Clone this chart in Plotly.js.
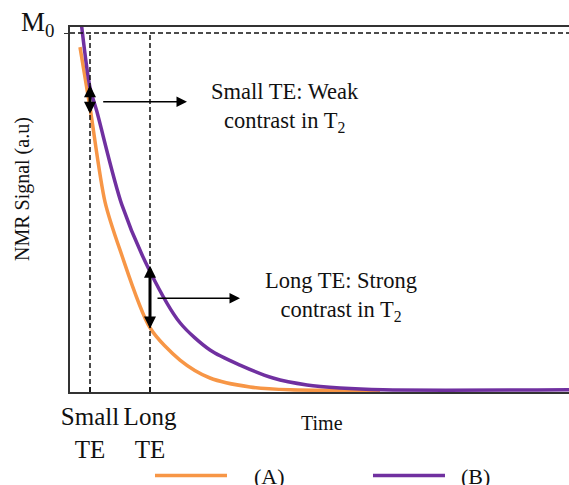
<!DOCTYPE html>
<html>
<head>
<meta charset="utf-8">
<script src="https://cdn.plot.ly/plotly-3.0.1.min.js"></script>
<style>html,body{margin:0;padding:0;background:#fff;}</style>
</head>
<body>
<div id="chart" style="width:569px;height:485px;"></div>
<script>
// Time (arbitrary units) and NMR signal (fraction of M0)
const timeA   = [0.5, 1.0, 1.75, 2.5, 4.0, 5.5, 7.0, 9.0, 11.0, 15.5];
const signalA = [0.961, 0.793, 0.530, 0.396, 0.179, 0.089, 0.039, 0.014, 0.006, 0.005];
const timeB   = [0.58, 1.0, 1.34, 2.59, 4.0, 5.5, 7.0, 8.5, 10.15, 11.85, 13.5, 15.65, 24.95];
const signalB = [1.02, 0.848, 0.782, 0.522, 0.336, 0.193, 0.117, 0.075, 0.039, 0.0195, 0.011, 0.006, 0.006];
const seriesNames = ["(A)", "(B)"];
const legendLabels = ["\u00a0\u00a0\u00a0\u00a0(A)", "\u00a0\u00a0(B)"];
const seriesColors = ["#F79646", "#7030A0"];
const teValues = [1, 4];
const teLabels = ["Small<br>TE", "Long<br>TE"];
const m0Value = 1;
const m0Label = "M<sub>0</sub>";
const xTitle = "Time";
const yTitle = "NMR Signal (a.u)";
// double arrows (contrast between curves) and pointer arrows
const smallArrow = {t: 1, low: 0.771, high: 0.855, from: 1.585, to: 5.85, level: 0.809};
const longArrow  = {t: 4, low: 0.173, high: 0.352, from: 4.3,  to: 8.5,  level: 0.2615};
const smallText = {t: 10.75, s: 0.794, text: "Small TE: Weak<br>contrast in T<sub>2</sub>"};
const longText  = {t: 13.55, s: 0.266, text: "Long TE: Strong<br>contrast in T<sub>2</sub>"};

const serif = "Liberation Serif, Times New Roman, serif";
const ink = "#111";

const traces = [
  {x: timeA, y: signalA, name: legendLabels[0], mode: "lines",
   line: {color: seriesColors[0], width: 3.5, shape: "spline", smoothing: 0.8}},
  {x: timeB, y: signalB, name: legendLabels[1], mode: "lines",
   line: {color: seriesColors[1], width: 3.5, shape: "spline", smoothing: 0.8}}
];

const dashStyle = {color: ink, width: 1.5, dash: "5px,3px"};
const shapes = [
  {type: "line", xref: "paper", x0: 0, x1: 1, yref: "y", y0: m0Value, y1: m0Value, line: dashStyle},
  ...teValues.map(v => ({type: "line", xref: "x", x0: v, x1: v, yref: "y", y0: 0, y1: m0Value, line: dashStyle}))
];

function dbl(a) {
  return {x: a.t, y: a.high, ax: a.t, ay: a.low, axref: "x", ayref: "y", xref: "x", yref: "y",
    text: "", showarrow: true, arrowhead: 2, arrowside: "end+start", arrowsize: 0.8, arrowwidth: 3, arrowcolor: "#000"};
}
function ptr(a) {
  return {x: a.to, y: a.level, ax: a.from, ay: a.level, axref: "x", ayref: "y", xref: "x", yref: "y",
    text: "", showarrow: true, arrowhead: 2, arrowsize: 1.4, arrowwidth: 1.5, arrowcolor: "#000"};
}
function lbl(a) {
  return {x: a.t, y: a.s, xref: "x", yref: "y", text: a.text, showarrow: false,
    font: {family: serif, size: 22.5, color: ink}, align: "center"};
}

const layout = {
  width: 569, height: 485,
  margin: {l: 70, r: 0, t: 27, b: 93, autoexpand: false},
  paper_bgcolor: "#fff", plot_bgcolor: "#fff",
  showlegend: true,
  legend: {orientation: "h", x: 0.1603, xanchor: "left", y: -0.229, yanchor: "middle",
    font: {family: serif, size: 22, color: ink}, itemwidth: 72,
    entrywidth: 131, entrywidthmode: "pixels", bgcolor: "rgba(0,0,0,0)"},
  xaxis: {range: [0, 24.95], showgrid: false, zeroline: false,
    showline: true, linecolor: "#333", linewidth: 2, mirror: true,
    tickmode: "array", tickvals: teValues, ticktext: teLabels,
    ticks: "inside", ticklen: 5, tickcolor: "#333", tickwidth: 1.5,
    ticklabelstandoff: 1,
    tickfont: {family: serif, size: 25, color: ink}},
  yaxis: {range: [0, 1.017], showgrid: false, zeroline: false,
    showline: true, linecolor: "#333", linewidth: 2,
    tickmode: "array", tickvals: [m0Value], ticktext: [""],
    ticks: "outside", ticklen: 4, tickcolor: "#333"},
  shapes: shapes,
  annotations: [
    dbl(smallArrow), dbl(longArrow), ptr(smallArrow), ptr(longArrow), lbl(smallText), lbl(longText),
    {x: 0, xref: "paper", xanchor: "right", xshift: -14, y: m0Value, yref: "y", yanchor: "middle", yshift: 9,
     text: m0Label, showarrow: false, font: {family: serif, size: 27, color: ink}},
    {x: 0.505, xref: "paper", y: -0.085, yref: "paper", yanchor: "middle", text: xTitle, showarrow: false,
     font: {family: serif, size: 20, color: ink}},
    {x: -0.0962, xref: "paper", xanchor: "center", y: 0.556, yref: "paper", yanchor: "middle",
     text: yTitle, textangle: -90, showarrow: false, font: {family: serif, size: 20, color: ink}}
  ]
};

Plotly.newPlot("chart", traces, layout, {displayModeBar: false, staticPlot: true});
</script>
</body>
</html>
